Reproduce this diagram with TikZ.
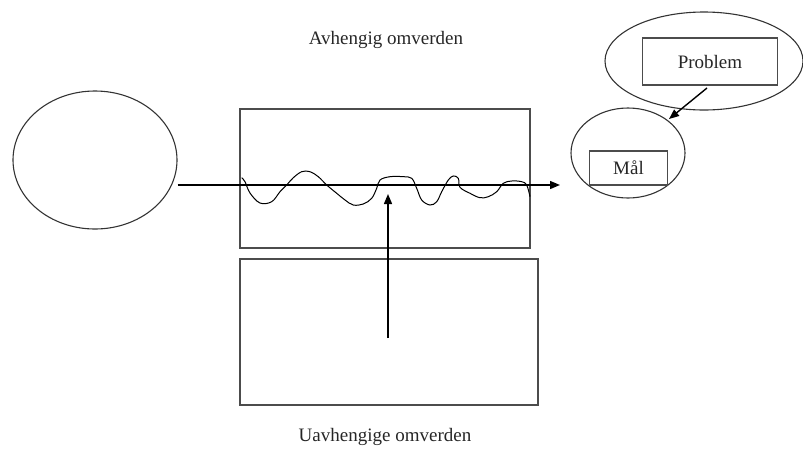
\documentclass[tikz,border=0pt]{standalone}
\usepackage{fontspec}
\setmainfont{Liberation Serif}
\usetikzlibrary{shapes.geometric,arrows.meta}
\begin{document}
\begin{tikzpicture}[x=1pt,y=-1pt,
  oval/.style={draw=black!80,line width=1.1pt,ellipse,inner sep=0pt},
  box/.style={draw=black!70,line width=1.2pt,rectangle,inner sep=0pt},
  lbl/.style={font=\fontsize{19}{22}\selectfont,text=black!85},
  arr/.style={draw=black,line width=1.4pt,-{Triangle[length=10pt,width=8pt]}},
  wave/.style={draw=black,line width=1pt}]
\useasboundingbox (0,0) rectangle (803,453);
\clip (0,0) rectangle (803,453);
% texts
\node[lbl] (top) at (386,40) {Avhengig omverden};
\node[lbl] (bot) at (385,437) {Uavhengige omverden};
% left ellipse
\node[oval,minimum width=164pt,minimum height=138pt] (src) at (95,160) {};
% rectangles
\node[box,minimum width=290pt,minimum height=139pt] (dep) at (385,178.5) {};
\node[box,minimum width=298pt,minimum height=146pt] (indep) at (389,332) {};
% right side
\node[oval,minimum width=198pt,minimum height=98pt] (pe) at (704,61) {};
\node[box,lbl,minimum width=135pt,minimum height=47pt] (pr) at (710,61.5) {Problem};
\node[oval,minimum width=114pt,minimum height=90pt] (me) at (628,153) {};
\node[box,lbl,minimum width=78pt,minimum height=34pt] (mr) at (628.5,168) {Mål};
% wave
\draw[wave] plot[smooth,tension=0.6] coordinates {
 (241.7,177.7) (245,181.7) (250,193) (260,203) (271.7,201.7) (280,191.7)
 (286.7,185) (293,178) (301.7,171.7) (310,171.7) (318.3,176.7) (326.7,185)
 (336.7,193.3) (345,200) (353.3,205) (363.3,204) (371.7,198.3) (376.7,188.3)
 (380,180) (390,176.7) (403.3,176.7) (411.7,178.3) (416.7,188.3) (421.7,200)
 (430,205) (436.7,201.7) (441.7,191.7) (448.3,180) (453.3,176) (458.3,178.3)
 (460,187.3) (470,193.3) (480,197.7) (488.3,196.7) (496.7,191.7) (503.3,183.3)
 (511.7,181) (521.7,181.7) (526.7,185) (530,196.7)};
% connectors
\coordinate (hs) at (src.east |- 0,185);
\coordinate (he) at (560,185);
\draw[arr] (hs) -- (he);
\coordinate (vs) at (388,338);
\coordinate (ve) at (388,194);
\draw[arr] (vs) -- (ve);
\coordinate (ps) at (707,88);
\coordinate (pe2) at (669,119);
\draw[arr] (ps) -- (pe2);
\end{tikzpicture}
\end{document}
